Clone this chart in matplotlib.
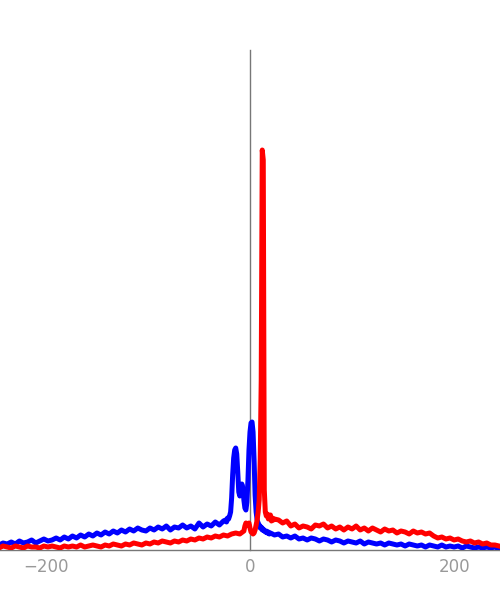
import numpy as np
import matplotlib.pyplot as plt

# blue series: coarse bins on the tails, 1-unit bins around the peaks
blue_x = np.concatenate([np.arange(-250, -25, 4), np.arange(-24, 21, 1), np.arange(24, 249, 4)])
blue_y = np.array([
    6, 5, 7, 6, 8, 6, 9, 7, 8, 10, 7, 9, 11, 9, 10, 12, 10, 13, 11, 14,
    12, 15, 13, 16, 14, 17, 15, 18, 16, 19, 17, 20, 18, 21, 19, 22, 20, 19, 22, 20,
    23, 21, 24, 20, 23, 22, 25, 22, 24, 21, 27, 23, 26, 24, 28, 25, 29,
    # -24 .. 20
    30, 28, 32, 31, 34, 38, 52, 75, 92, 100, 102, 96, 78, 58, 54, 60, 66, 62, 50, 42,
    40, 48, 70, 100, 118, 127, 128, 118, 90, 55, 38, 30, 27, 25, 22, 23, 20, 21, 19, 18,
    19, 17, 18, 16, 17,
    # 24 .. 248
    15, 16, 13, 14, 12, 14, 11, 12, 10, 12, 11, 9, 11, 10, 8, 10, 9, 7, 9, 8,
    7, 9, 6, 8, 7, 6, 7, 5, 7, 6, 5, 6, 4, 6, 5, 4, 5, 3, 5, 4,
    3, 5, 3, 4, 3, 4, 2, 4, 3, 2, 3, 2, 3, 2, 3, 1, 2,
])

# red series
red_x = np.concatenate([np.arange(-250, -5, 4), np.arange(-5, 25, 1), np.arange(28, 249, 4)])
red_y = np.array([
    3, 2, 4, 3, 2, 4, 3, 2, 4, 3, 3, 2, 4, 3, 4, 3, 2, 4, 3, 4,
    3, 5, 3, 4, 5, 4, 3, 5, 4, 6, 5, 4, 6, 5, 7, 6, 5, 7, 6, 8,
    7, 9, 8, 7, 9, 8, 10, 9, 11, 10, 12, 11, 13, 12, 14, 13, 15, 14, 16, 17,
    16, 19,
    # -5 .. 24
    24, 27, 26, 25, 27, 22, 18, 17, 16, 17, 20, 25, 30, 38, 50, 90, 170, 400, 390, 60,
    38, 34, 36, 31, 33, 35, 29, 32, 30, 31,
    # 28 .. 248
    30, 27, 29, 24, 26, 22, 24, 23, 21, 25, 24, 26, 22, 24, 21, 23, 20, 23, 21, 24,
    20, 22, 19, 22, 20, 18, 21, 19, 20, 17, 19, 18, 16, 19, 17, 18, 16, 17, 14, 12,
    13, 11, 12, 10, 11, 9, 8, 9, 7, 8, 6, 7, 5, 5, 4, 3,
])

fig = plt.figure(figsize=(5, 6), dpi=100)
ax = fig.add_axes([0, 50 / 600, 1, 500 / 600])

ax.plot(blue_x, blue_y, color='#0000ff', lw=3.6, solid_joinstyle='round')
ax.plot(red_x, red_y, color='#ff0000', lw=3.6, solid_joinstyle='round')

ax.set_xlim(-245, 245)
ax.set_ylim(0, 500)

for side in ['top', 'right']:
    ax.spines[side].set_visible(False)
ax.spines['left'].set_position(('data', 0))
for side in ['left', 'bottom']:
    ax.spines[side].set_color('#777777')
    ax.spines[side].set_linewidth(1)
    ax.spines[side].set_zorder(1)

ax.set_xticks([-200, 0, 200])
ax.set_yticks([])
ax.tick_params(axis='x', length=0, pad=6, labelsize=12, labelcolor='#999999')

fig.savefig('out.png', dpi=100)
